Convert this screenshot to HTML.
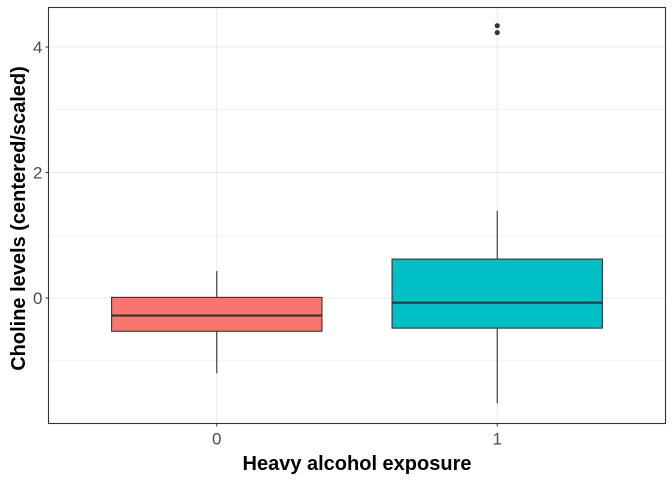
<!DOCTYPE html>
<html><head><meta charset="utf-8"><style>
body{margin:0;background:#fff;}
svg{display:block;font-family:"Liberation Sans",Arial,sans-serif;}
</style></head><body>
<svg id="chart" width="672" height="480"></svg>
<script>
const categories = ["0", "1"];
const colors = ["#F8766D", "#00BFC4"];
const whiskerLow = [-1.2, -1.68];
const q1 = [-0.53, -0.48];
const medians = [-0.28, -0.075];
const q3 = [0.01, 0.62];
const whiskerHigh = [0.43, 1.39];
const outliers = [[], [4.34, 4.23]];
const yTicks = [0, 2, 4];
const yMinor = [-1, 1, 3];

const NS = "http://www.w3.org/2000/svg";
const svg = document.getElementById("chart");
const L = 48.5, R = 665.5, T = 7.5, B = 423.5;
const y = v => 298 - v * 62.75;
const step = (R - L) / (categories.length + 0.2);
const x = i => L + step * (0.6 + i);
function mk(tag, attrs, parent) {
  const e = document.createElementNS(NS, tag);
  for (const k in attrs) e.setAttribute(k, attrs[k]);
  (parent || svg).appendChild(e);
  return e;
}
yMinor.forEach(v => {
  const g = mk("line", {x1: L, x2: R, y1: y(v), y2: y(v), stroke: "#ebebeb", "stroke-width": 0.6});
  
  
});
yTicks.forEach(v => {
  const g = mk("line", {x1: L, x2: R, y1: y(v), y2: y(v), stroke: "#ebebeb", "stroke-width": 1.1});
  
  
  const t = mk("line", {x1: L - 3, x2: L, y1: y(v), y2: y(v), stroke: "#333", "stroke-width": 1});
  
  
  const lab = mk("text", {x: L - 6, y: y(v) + 6, "text-anchor": "end", "font-size": 17, fill: "#4d4d4d"});
  lab.textContent = v;
  
  
});
categories.forEach((c, i) => {
  const g = mk("line", {x1: x(i), x2: x(i), y1: T, y2: B, stroke: "#ebebeb", "stroke-width": 1.1});
  
  
});
categories.forEach((c, i) => {
  const cx = x(i), w = step * 0.75;
  const wl = mk("line", {x1: cx, x2: cx, y1: y(whiskerHigh[i]), y2: y(whiskerLow[i]), stroke: "#333", "stroke-width": 1.1});
  
  
  const box = mk("rect", {x: cx - w / 2, y: y(q3[i]), width: w, height: y(q1[i]) - y(q3[i]), fill: colors[i], stroke: "#333", "stroke-width": 1.1});
  
  
  const md = mk("line", {x1: cx - w / 2, x2: cx + w / 2, y1: y(medians[i]), y2: y(medians[i]), stroke: "#333", "stroke-width": 2.2});
  
  
  outliers[i].forEach(v => {
    const p = mk("circle", {cx: cx, cy: y(v), r: 2.6, fill: "#333"});
    
    
  });
  const t = mk("line", {x1: cx, x2: cx, y1: B, y2: B + 3, stroke: "#333", "stroke-width": 1});
  
  
  const lab = mk("text", {x: cx, y: B + 21, "text-anchor": "middle", "font-size": 17, fill: "#4d4d4d"});
  lab.textContent = c;
  
  
});
const frame = mk("rect", {x: L, y: T, width: R - L, height: B - T, fill: "none", stroke: "#333", "stroke-width": 1.1});


const xt = mk("text", {x: (L + R) / 2, y: 470, "text-anchor": "middle", "font-size": 20, "font-weight": "bold", fill: "#000"});
xt.textContent = "Heavy alcohol exposure";


const yt = mk("text", {x: 0, y: 0, transform: "translate(25," + ((T + B) / 2 + 3) + ") rotate(-90)", "text-anchor": "middle", "font-size": 20, "font-weight": "bold", fill: "#000"});
yt.textContent = "Choline levels (centered/scaled)";


</script>
</body></html>
